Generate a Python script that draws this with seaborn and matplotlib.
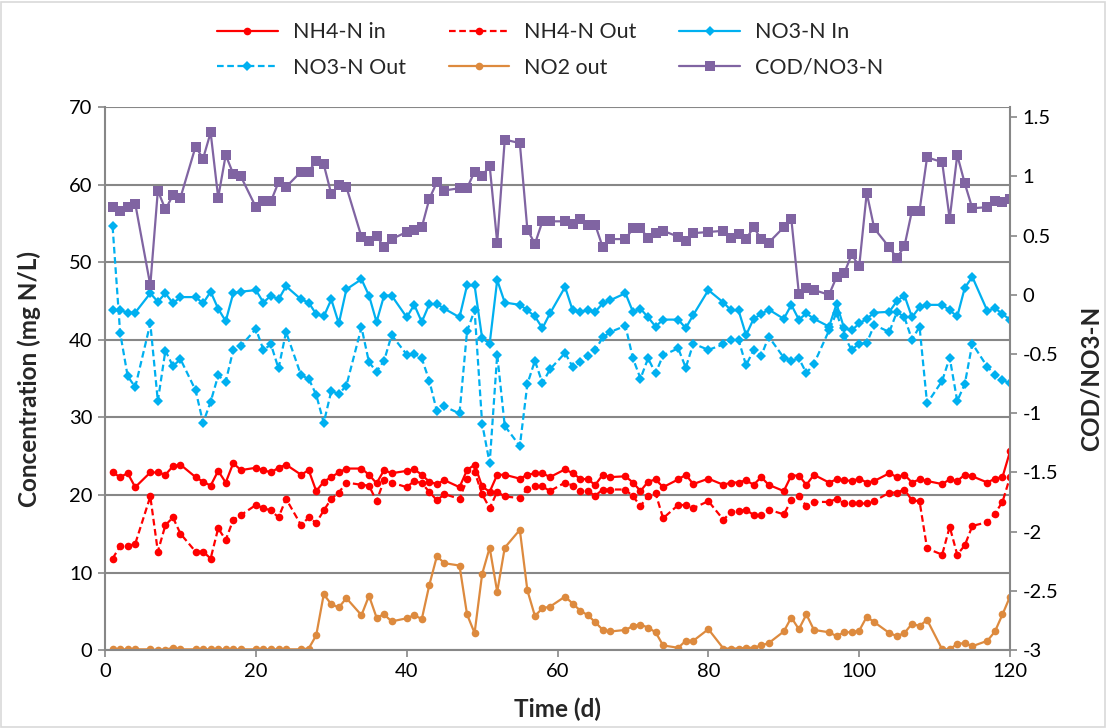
import matplotlib
matplotlib.use('Agg')
import matplotlib.pyplot as plt
import seaborn as sns
from matplotlib.patches import Rectangle

# Sampling days (d)
days = [1, 2, 3, 4, 6, 7, 8, 9, 10, 12, 13, 14, 15, 16, 17, 18, 20, 21, 22, 23, 24,
        26, 27, 28, 29, 30, 31, 32, 34, 35, 36, 37, 38, 40, 41, 42, 43, 44, 45,
        47, 48, 49, 50, 51, 52, 53, 55, 56, 57, 58, 59, 61, 62, 63, 64, 65, 66, 67,
        69, 70, 71, 72, 73, 74, 76, 77, 78, 80, 82, 83, 84, 85, 86, 87, 88,
        90, 91, 92, 93, 94, 96, 97, 98, 99, 100, 101, 102, 104, 105, 106, 107, 108, 109,
        111, 112, 113, 114, 115, 117, 118, 119, 120]

nh4_in = [22.9, 22.3, 22.8, 21.0, 22.9, 22.9, 22.6, 23.7, 23.9, 22.3, 21.7, 21.2, 23.1, 21.6, 24.1, 23.2, 23.5, 23.2, 22.9, 23.5, 23.9,
          22.6, 23.2, 20.5, 21.7, 22.3, 22.9, 23.4, 23.4, 22.6, 21.5, 23.2, 22.8, 23.1, 23.3, 22.6, 21.7, 21.4, 21.9,
          21.0, 23.2, 23.9, 21.1, 20.4, 22.6, 22.6, 22.1, 22.6, 22.8, 22.8, 22.3, 23.3, 22.8, 22.1, 22.0, 21.3, 22.6, 22.3,
          22.4, 21.6, 20.5, 21.7, 22.0, 21.0, 22.0, 22.6, 21.4, 22.1, 21.3, 21.6, 21.6, 21.9, 21.3, 22.3, 21.3,
          20.5, 22.5, 22.5, 21.3, 22.6, 21.6, 22.0, 21.9, 21.8, 22.1, 21.6, 21.8, 22.8, 22.3, 22.6, 21.6, 22.0, 21.8,
          21.4, 22.0, 21.8, 22.6, 22.4, 21.6, 22.1, 22.3, 25.6]

nh4_out = [11.8, 13.4, 13.4, 13.7, 19.8, 12.7, 16.1, 17.1, 15.0, 12.7, 12.7, 11.8, 15.7, 14.2, 16.8, 17.4, 18.7, 18.3, 18.0, 17.1, 19.5,
           16.1, 17.1, 16.4, 18.0, 19.5, 20.3, 21.6, 21.3, 21.2, 19.2, 21.9, 21.6, 21.0, 21.8, 21.5, 20.4, 19.3, 20.1,
           19.5, 22.0, 23.0, 20.1, 18.3, 20.4, 19.8, 19.6, 20.8, 21.1, 21.1, 20.5, 21.6, 21.2, 20.5, 20.5, 19.9, 20.7, 20.7,
           20.7, 19.8, 18.6, 19.8, 20.2, 17.0, 18.7, 18.7, 18.3, 19.2, 16.8, 17.8, 17.9, 18.1, 17.4, 17.4, 18.1,
           17.5, 19.3, 19.8, 18.6, 19.1, 19.1, 19.5, 18.9, 18.9, 18.9, 18.9, 19.2, 20.3, 20.3, 20.7, 19.3, 19.2, 13.1,
           12.3, 15.9, 12.3, 13.5, 16.0, 16.5, 17.6, 19.1, 22.3]

no3_in = [43.8, 43.8, 43.5, 43.5, 46.0, 44.9, 46.0, 44.7, 45.5, 45.5, 44.7, 46.2, 44.0, 42.4, 46.0, 46.2, 46.4, 44.8, 45.7, 45.2, 46.9,
          45.2, 44.8, 43.3, 43.0, 45.2, 42.1, 46.5, 47.8, 45.7, 42.3, 45.7, 45.7, 42.9, 44.5, 42.3, 44.6, 44.6, 44.0,
          42.9, 47.0, 47.0, 40.2, 39.5, 47.7, 44.8, 44.5, 43.8, 43.0, 41.5, 43.4, 46.8, 43.8, 43.6, 43.8, 43.6, 44.7, 45.1,
          46.0, 43.6, 44.0, 42.9, 41.7, 42.6, 42.6, 41.5, 43.2, 46.4, 44.8, 43.8, 43.8, 40.6, 42.7, 43.3, 43.9,
          42.7, 44.5, 42.6, 43.4, 42.7, 41.7, 44.6, 41.5, 41.2, 42.1, 42.7, 43.5, 43.6, 45.0, 45.7, 42.9, 44.2, 44.5,
          44.5, 43.8, 43.0, 46.7, 48.1, 43.7, 44.1, 43.3, 42.6]

no3_out = [54.6, 40.9, 35.3, 33.9, 42.1, 32.1, 38.6, 36.6, 37.5, 33.5, 29.3, 32.0, 35.4, 34.6, 38.7, 39.2, 41.4, 38.7, 39.4, 36.3, 41.0,
           35.4, 35.0, 32.9, 29.3, 33.4, 33.0, 34.1, 41.6, 37.1, 35.9, 37.3, 40.6, 38.1, 38.2, 37.6, 34.7, 30.8, 31.4,
           30.5, 41.1, 43.8, 29.2, 24.1, 38.1, 28.9, 26.3, 34.3, 37.3, 34.4, 36.2, 38.3, 36.5, 37.1, 37.9, 38.7, 40.3, 41.0,
           41.8, 37.6, 35.0, 37.6, 35.7, 38.0, 38.9, 36.4, 39.5, 38.7, 39.4, 40.0, 40.0, 36.7, 38.7, 37.9, 40.4,
           37.7, 37.3, 37.6, 35.7, 36.9, 41.2, 43.5, 40.5, 38.7, 39.5, 39.6, 41.9, 41.0, 43.6, 42.9, 40.0, 41.7, 31.8,
           34.7, 37.7, 32.1, 34.3, 39.5, 36.5, 35.5, 34.8, 34.4]

no2_out = [0.1, 0.1, 0.1, 0.1, 0.1, 0.0, 0.05, 0.3, 0.1, 0.1, 0.1, 0.1, 0.1, 0.1, 0.1, 0.1, 0.1, 0.1, 0.1, 0.1, 0.1,
           0.1, 0.2, 1.9, 7.2, 5.9, 5.5, 6.7, 4.5, 7.0, 4.2, 4.6, 3.7, 4.1, 4.5, 4.0, 8.4, 12.1, 11.2,
           10.9, 4.6, 2.2, 9.8, 13.2, 7.5, 13.2, 15.5, 7.7, 4.4, 5.4, 5.6, 6.9, 6.0, 5.1, 4.5, 3.6, 2.6, 2.4,
           2.6, 3.1, 3.3, 2.9, 2.3, 0.6, 0.3, 1.2, 1.2, 2.7, 0.2, 0.2, 0.2, 0.3, 0.3, 0.6, 0.9,
           2.4, 4.2, 2.7, 4.6, 2.6, 2.3, 1.8, 2.3, 2.3, 2.5, 4.3, 3.6, 2.2, 1.8, 2.2, 3.4, 3.1, 3.9,
           0.1, 0.1, 0.8, 0.9, 0.5, 1.2, 2.4, 4.6, 6.9]

cod_no3 = [0.74, 0.71, 0.74, 0.77, 0.08, 0.88, 0.72, 0.84, 0.82, 1.25, 1.15, 1.37, 0.82, 1.18, 1.02, 1.0, 0.74, 0.79, 0.79, 0.95, 0.91,
           1.04, 1.04, 1.13, 1.10, 0.85, 0.93, 0.91, 0.49, 0.45, 0.50, 0.40, 0.47, 0.53, 0.55, 0.57, 0.81, 0.95, 0.88,
           0.90, 0.90, 1.04, 1.0, 1.09, 0.44, 1.31, 1.28, 0.55, 0.43, 0.62, 0.62, 0.62, 0.60, 0.64, 0.59, 0.59, 0.40, 0.47,
           0.47, 0.56, 0.56, 0.48, 0.52, 0.54, 0.49, 0.45, 0.52, 0.53, 0.54, 0.48, 0.51, 0.47, 0.57, 0.47, 0.44,
           0.57, 0.64, 0.01, 0.06, 0.04, 0.0, 0.15, 0.18, 0.34, 0.24, 0.86, 0.56, 0.40, 0.31, 0.41, 0.71, 0.71, 1.16,
           1.12, 0.64, 1.18, 0.94, 0.73, 0.74, 0.79, 0.78, 0.81]

x_ticks = [0, 20, 40, 60, 80, 100, 120]
left_ticks = [0, 10, 20, 30, 40, 50, 60, 70]
right_ticks = [-3, -2.5, -2, -1.5, -1, -0.5, 0, 0.5, 1, 1.5]

sns.set_style('white')
plt.rcParams['font.family'] = ['Lato', 'DejaVu Sans']
plt.rcParams['axes.unicode_minus'] = False

RED = '#FF0000'
BLUE = '#00B0F0'
ORANGE = '#DD8A3E'
PURPLE = '#8064A2'
GRID = '#878787'

fig = plt.figure(figsize=(11.07, 7.28), dpi=100)
ax = fig.add_axes([0.0949, 0.107, 0.8175, 0.746])
ax2 = ax.twinx()

dash = (3, 1.6)
common = dict(lw=1.6, markeredgewidth=0)

sns.lineplot(x=days, y=nh4_in, ax=ax, color=RED, marker='o', markersize=5.5,
             mec=RED, label='NH4-N in', **common)
sns.lineplot(x=days, y=nh4_out, ax=ax, color=RED, marker='o', markersize=5.5,
             mec=RED, dashes=False, linestyle=(0, dash), label='NH4-N Out', **common)
sns.lineplot(x=days, y=no3_in, ax=ax, color=BLUE, marker='D', markersize=5.5,
             mec=BLUE, label='NO3-N In', **common)
sns.lineplot(x=days, y=no3_out, ax=ax, color=BLUE, marker='D', markersize=5.5,
             mec=BLUE, dashes=False, linestyle=(0, dash), label='NO3-N Out', **common)
sns.lineplot(x=days, y=no2_out, ax=ax, color=ORANGE, marker='o', markersize=5.5,
             mec=ORANGE, label='NO2 out', **common)
sns.lineplot(x=days, y=cod_no3, ax=ax2, color=PURPLE, marker='s', markersize=6.5,
             mec=PURPLE, label='COD/NO3-N', **common)

ax.set_xlim(0, 120)
ax.set_ylim(0, 70)
ax2.set_ylim(-3, 1.585)
ax.set_xticks(x_ticks)
ax.set_yticks(left_ticks)
ax2.set_yticks(right_ticks)
ax2.set_yticklabels([f'{v:g}' for v in right_ticks])

ax.set_axisbelow(True)
ax.yaxis.grid(True, color=GRID, lw=1.5)
ax.xaxis.grid(False)

for a in (ax, ax2):
    for s in a.spines.values():
        s.set_visible(False)
ax.spines['left'].set_visible(True)
ax.spines['bottom'].set_visible(True)
ax2.spines['right'].set_visible(True)
for s in (ax.spines['left'], ax.spines['bottom'], ax2.spines['right']):
    s.set_color(GRID)
    s.set_linewidth(1.5)

ax.tick_params(axis='both', direction='out', length=5, width=1.2, color=GRID,
               labelsize=14.5, labelcolor='#000000', left=True, bottom=True, pad=4)
ax2.tick_params(axis='y', direction='out', length=5, width=1.2, color=GRID,
                labelsize=14.5, labelcolor='#000000', right=True, pad=4)

ax.set_xlabel('Time (d)', fontsize=17.5, fontweight='bold')
ax.set_ylabel('Concentration (mg N/L)', fontsize=17.5, fontweight='bold')
ax2.set_ylabel('COD/NO3-N', fontsize=17.5, fontweight='bold')
ax.xaxis.set_label_coords(0.5, -0.088)
ax.yaxis.set_label_coords(-0.071, 0.5)
ax2.yaxis.set_label_coords(1.077, 0.5)

# Legend in the top band, row-wise order
h1, l1 = ax.get_legend_handles_labels()
h2, l2 = ax2.get_legend_handles_labels()
ax.get_legend().remove()
ax2.get_legend().remove()
hd = dict(zip(l1 + l2, h1 + h2))
order = ['NH4-N in', 'NO3-N Out', 'NH4-N Out', 'NO2 out', 'NO3-N In', 'COD/NO3-N']
fig.legend([hd[k] for k in order], order, ncol=3, loc='center',
           bbox_to_anchor=(0.497, 0.931), frameon=False, fontsize=15.5,
           handlelength=2.8, handletextpad=0.7, columnspacing=2.0, labelspacing=0.72)

fig.patches.append(Rectangle((0.001, 0.002), 0.997, 0.995, transform=fig.transFigure,
                             fill=False, ec='#D9D9D9', lw=1.2))

fig.savefig('out.png', dpi=100, facecolor='white')
